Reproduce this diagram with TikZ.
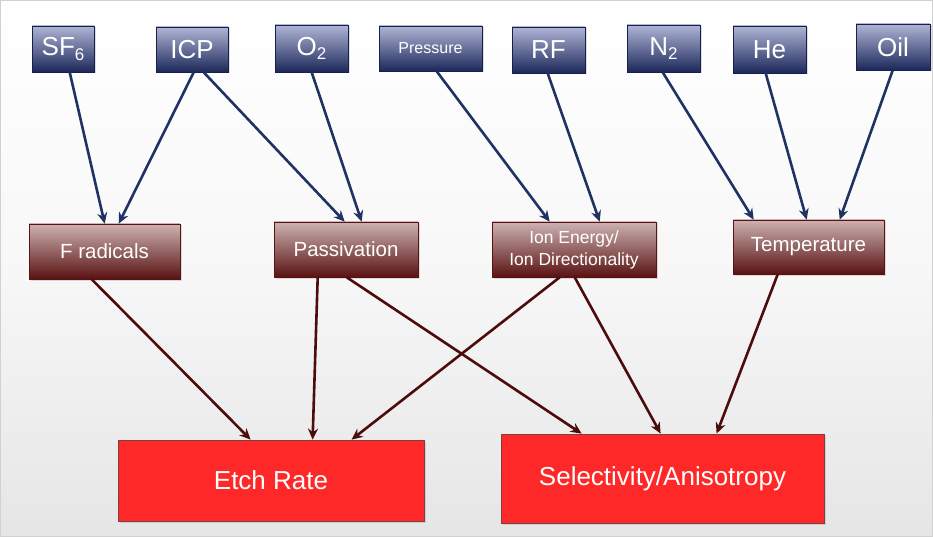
\documentclass[tikz,border=0pt]{standalone}
\usepackage{fontspec}
\setmainfont{Liberation Sans}
\usetikzlibrary{calc,shadows,arrows.meta}
\definecolor{navyTop}{HTML}{B0B5D6}
\definecolor{navyBot}{HTML}{1C285A}
\definecolor{maroonTop}{HTML}{CDB2B2}
\definecolor{maroonBot}{HTML}{5A1212}
\definecolor{redFill}{HTML}{FF2828}
\definecolor{blueArrow}{HTML}{1F3263}
\definecolor{redArrow}{HTML}{4D0C0C}
\newcommand{\subsix}[1]{\raisebox{-0.35ex}{\fontsize{17}{17}\selectfont #1}}
\tikzset{
  topbox/.style={draw=navyBot!80!black, line width=0.6pt, top color=navyTop, bottom color=navyBot, text=white,
    inner sep=0pt, drop shadow={opacity=0.25, shadow xshift=1.5pt, shadow yshift=-1.5pt},
    font=\fontsize{26}{26}\selectfont},
  midbox/.style={draw=maroonBot, line width=0.6pt, top color=maroonTop, bottom color=maroonBot, text=white,
    inner sep=0pt, drop shadow={opacity=0.25, shadow xshift=1.5pt, shadow yshift=-1.5pt},
    font=\fontsize{20.5}{20.5}\selectfont, align=center},
  botbox/.style={draw=maroonBot!80, line width=0.8pt, fill=redFill, text=white,
    inner sep=0pt, drop shadow={opacity=0.25, shadow xshift=1.5pt, shadow yshift=-1.5pt},
    font=\fontsize{26}{26}\selectfont},
  bluearr/.style={draw=blueArrow, line width=2.6pt, -{Stealth[length=11pt,width=10pt]}},
  redarr/.style={draw=redArrow, line width=2.6pt, -{Stealth[length=11pt,width=10pt]}},
}
\begin{document}
\begin{tikzpicture}[x=1pt,y=-1pt]
\shade[top color=white, bottom color=black!10, middle color=white!97!black] (0,0) rectangle (933,537);
\useasboundingbox (0,0) rectangle (933,537);
\draw[black!18, line width=1pt] (0.5,0.5) rectangle (932.5,536.5);
% top row
\node[topbox, minimum width=62pt, minimum height=46pt] (sf) at (63,49) {SF\subsix{6}};
\node[topbox, minimum width=72pt, minimum height=45pt] (icp) at (192,49.5) {ICP};
\node[topbox, minimum width=73pt, minimum height=47pt] (oo) at (311.5,48.5) {O\subsix{2}};
\node[topbox, minimum width=103pt, minimum height=45pt, font=\fontsize{16}{16}\selectfont] (pr) at (430.5,48.5) {Pressure};
\node[topbox, minimum width=73pt, minimum height=46pt] (rf) at (548.5,50) {RF};
\node[topbox, minimum width=73pt, minimum height=47pt] (nn) at (663.5,48.5) {N\subsix{2}};
\node[topbox, minimum width=73pt, minimum height=47pt] (he) at (769.5,49.5) {He};
\node[topbox, minimum width=74pt, minimum height=46pt] (oil) at (893,47) {Oil};
% middle row
\node[midbox, minimum width=151pt, minimum height=55pt] (fr) at (104.5,251.5) {F radicals};
\node[midbox, minimum width=144pt, minimum height=55pt] (pa) at (346,249.5) {Passivation};
\node[midbox, minimum width=164pt, minimum height=55pt, font=\fontsize{17.5}{22}\selectfont] (ie) at (574,249.5) {Ion Energy/\\Ion Directionality};
\node[midbox, minimum width=151pt, minimum height=54pt] (te) at (808.5,247) {Temperature};
% bottom row
\node[botbox, minimum width=306pt, minimum height=81pt] (er) at (271,480.5) {Etch Rate};
\node[botbox, minimum width=323pt, minimum height=89pt] (se) at (662.5,478.5) {Selectivity/Anisotropy};
% blue arrows
\draw[bluearr] ($(sf.south west)+(38,0)$) -- ($(fr.north west)+(76,0)$);
\draw[bluearr] ($(icp.south west)+(38,0)$) -- ($(fr.north west)+(90,0)$);
\draw[bluearr] ($(icp.south west)+(48,0)$) -- ($(pa.north west)+(71,0)$);
\draw[bluearr] ($(oo.south west)+(37,0)$) -- ($(pa.north west)+(88,0)$);
\draw[bluearr] ($(pr.south west)+(58,0)$) -- ($(ie.north west)+(58,0)$);
\draw[bluearr] ($(rf.south west)+(36,0)$) -- ($(ie.north west)+(108,0)$);
\draw[bluearr] ($(nn.south west)+(36,0)$) -- ($(te.north west)+(21,0)$);
\draw[bluearr] ($(he.south west)+(33,0)$) -- ($(te.north west)+(74,0)$);
\draw[bluearr] ($(oil.south west)+(37,0)$) -- ($(te.north west)+(107,0)$);
% maroon arrows
\draw[redarr] ($(fr.south west)+(63,0)$) -- ($(er.north west)+(133,0)$);
\draw[redarr] ($(pa.south west)+(44,0)$) -- ($(er.north west)+(195,0)$);
\draw[redarr] ($(ie.south west)+(68,0)$) -- ($(er.north west)+(234,0)$);
\draw[redarr] ($(pa.south west)+(73,0)$) -- ($(se.north west)+(81,0)$);
\draw[redarr] ($(ie.south west)+(83,0)$) -- ($(se.north west)+(160,0)$);
\draw[redarr] ($(te.south west)+(45,0)$) -- ($(se.north west)+(216,0)$);
\end{tikzpicture}
\end{document}
